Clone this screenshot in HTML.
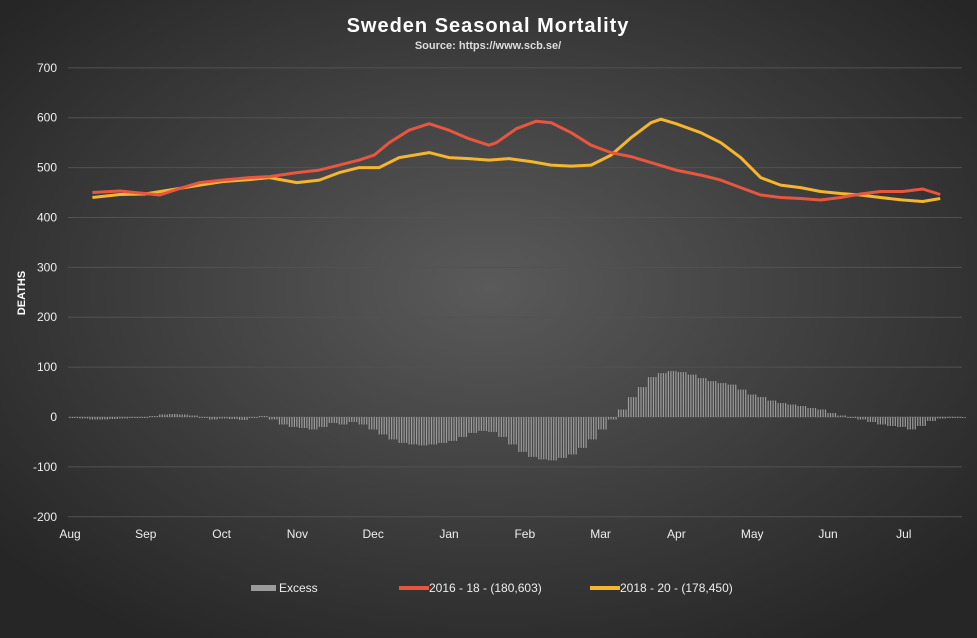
<!DOCTYPE html>
<html><head><meta charset="utf-8"><style>
html,body{margin:0;padding:0;width:977px;height:638px;overflow:hidden;background:#333;}
svg{display:block;font-family:"Liberation Sans",sans-serif;}
</style></head><body>
<svg id="chart" width="977" height="638">
<defs>
<radialGradient id="bg" cx="50%" cy="45%" r="65%">
<stop offset="0" stop-color="#5a5a5a"/><stop offset="1" stop-color="#262626"/>
</radialGradient>
</defs>
<rect width="977" height="638" fill="url(#bg)"/>
<text x="488" y="32" text-anchor="middle" fill="#fff" font-size="20" font-weight="bold" letter-spacing="1">Sweden Seasonal Mortality</text>
<text x="488" y="49" text-anchor="middle" fill="#ddd" font-size="11" font-weight="bold">Source: https://www.scb.se/</text>
<text transform="translate(25,293) rotate(-90)" text-anchor="middle" fill="#fff" font-size="11" font-weight="bold">DEATHS</text>
<g id="grid"></g><g id="bars"></g><g id="lines"></g><g id="axes"></g>
<g>
<rect x="251" y="585" width="25" height="6" fill="#9a9a9a"/>
<text x="279" y="592" fill="#eee" font-size="12">Excess</text>
<rect x="399" y="586" width="30" height="4" fill="#e8563f"/>
<text x="429" y="592" fill="#eee" font-size="12">2016 - 18 - (180,603)</text>
<rect x="590" y="586" width="30" height="4" fill="#f5b52e"/>
<text x="620" y="592" fill="#eee" font-size="12">2018 - 20 - (178,450)</text>
</g>
</svg>
<script>
const months=["Aug","Sep","Oct","Nov","Dec","Jan","Feb","Mar","Apr","May","Jun","Jul"];
const yTicks=[700,600,500,400,300,200,100,0,-100,-200];
const redDays=[9,20,30,36,44,52,61,72,80,91,100,108,116,122,128,136,144,152,160,168,171,179,187,193,201,209,217,225,233,243,253,261,269,277,285,293,301,309,317,325,334,342,349];
const redVals=[450,453,448,445,458,470,475,480,482,490,495,505,515,525,550,575,588,575,558,545,550,578,593,590,570,545,530,522,510,495,485,475,460,445,440,438,435,440,447,452,452,457,446];
const yelDays=[9,20,30,40,52,61,72,80,91,100,108,116,124,132,144,152,160,168,176,185,193,201,209,217,225,233,237,243,253,261,269,277,285,293,301,309,317,325,334,342,349];
const yelVals=[440,446,447,455,465,472,476,480,470,475,490,500,500,520,530,520,518,515,518,512,505,503,505,525,560,590,597,588,570,550,520,480,465,460,452,448,445,440,435,432,438];
const excessStart=0, excessStep=4;
const excessVals=[-2,-3,-5,-5,-4,-3,-2,-2,2,5,6,5,3,-2,-5,-3,-4,-6,-2,2,-5,-15,-20,-22,-25,-20,-12,-15,-10,-15,-25,-35,-45,-52,-55,-57,-55,-52,-48,-40,-32,-28,-30,-40,-55,-70,-80,-85,-87,-82,-75,-62,-45,-25,-5,15,40,60,80,88,92,90,85,78,72,68,65,55,45,40,33,28,25,22,18,15,8,3,-2,-5,-10,-15,-18,-20,-25,-18,-8,-3,-2,-2];
const NS="http://www.w3.org/2000/svg";
const X0=70, PXD=75.8/30.4, PL=68, PR=962;
const xs=d=>X0+d*PXD;
const ys=v=>417-v*0.4988;
function mk(t,a,p){const e=document.createElementNS(NS,t);for(const k in a)e.setAttribute(k,a[k]);p.appendChild(e);return e;}
const grid=document.getElementById('grid'),axes=document.getElementById('axes');
yTicks.forEach(v=>{
  const l=mk('line',{x1:PL,x2:PR,y1:ys(v),y2:ys(v),stroke:'#525252','stroke-width':1},grid);
  
  
  const t=mk('text',{x:57,y:ys(v)+4,'text-anchor':'end',fill:'#eee','font-size':12},axes);
  t.textContent=v;
  
  
});
months.forEach((m,i)=>{
  const t=mk('text',{x:X0+i*75.8,y:538,'text-anchor':'middle',fill:'#eee','font-size':12},axes);
  t.textContent=m;
  
  
});
const bars=document.getElementById('bars');
excessVals.forEach((v,i)=>{
  const x=xs(excessStart+i*excessStep);
  const y0=ys(Math.max(v,0)),h=Math.abs(ys(v)-ys(0));
  for(let k=0;k<4;k++){
    const r=mk('rect',{x:x+k*2.49-0.6,y:y0,width:1.2,height:Math.max(h,0.5),fill:'#9c9c9c'},bars);
    
    
  }
});
const lines=document.getElementById('lines');
function path(days,vals,col,name){
  const d=days.map((dd,i)=>(i?'L':'M')+xs(dd).toFixed(1)+','+ys(vals[i]).toFixed(1)).join('');
  const p=mk('path',{d:d,fill:'none',stroke:col,'stroke-width':3,'stroke-linejoin':'round'},lines);
  
  
}
path(yelDays,yelVals,'#f5b52e','series-2018-20-line');
path(redDays,redVals,'#e8563f','series-2016-18-line');
</script>
</body></html>
